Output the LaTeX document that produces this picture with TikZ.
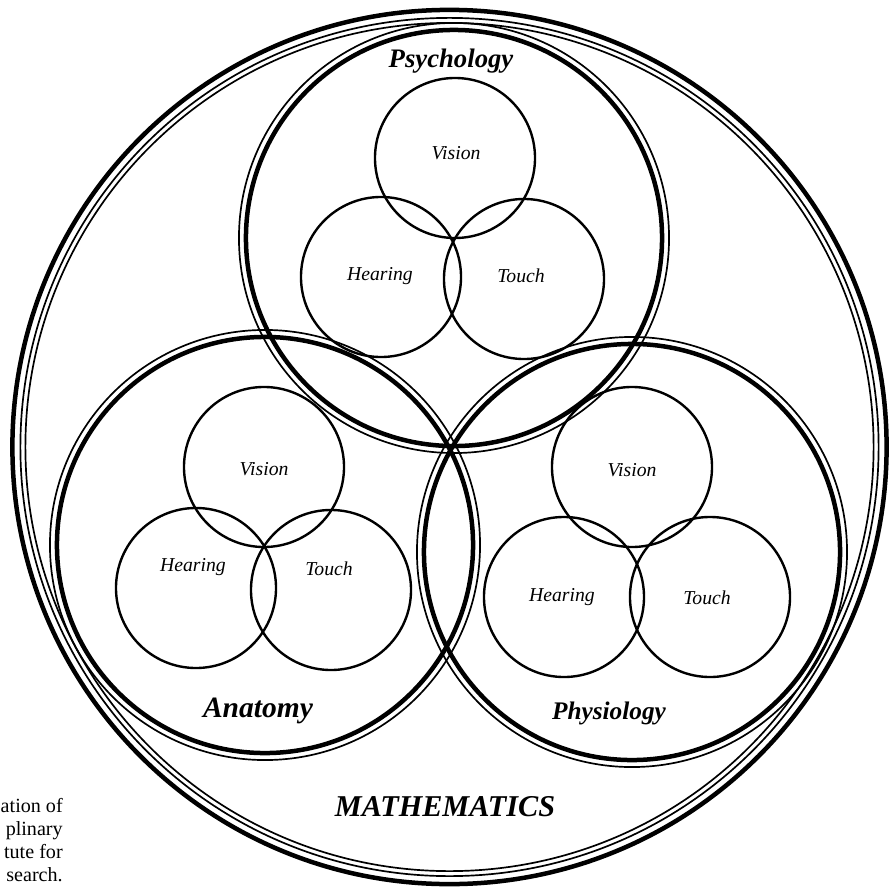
\documentclass[tikz,border=0pt]{standalone}
\usepackage{fontspec}
\setmainfont{Liberation Serif}
\tikzset{
  heavy/.style={line width=3.2pt},
  light/.style={line width=1.2pt},
  sense/.style={line width=1.7pt},
  senselabel/.style={font=\itshape\fontsize{14}{16}\selectfont, inner sep=0pt},
  fieldlabel/.style={font=\bfseries\itshape\fontsize{19}{22}\selectfont, inner sep=0pt},
}
\begin{document}
\begin{tikzpicture}[x=0.025cm, y=-0.025cm]
\useasboundingbox (0,0) rectangle (896,888);
% centres
\coordinate (math) at (449.5,447);
\coordinate (psy) at (454,238);
\coordinate (ana) at (265,545);
\coordinate (phy) at (632,552);
% outer Mathematics ring
\draw[heavy] (math) circle[radius=10.925cm];
\draw[light] (math) circle[radius=10.725cm];
\draw[light] (math) circle[radius=10.6cm];
% three disciplines
\foreach \c in {psy,ana,phy}{
  \draw[heavy] (\c) circle[radius=5.2cm];
  \draw[light] (\c) circle[radius=5.375cm];
}
% senses: psychology
\coordinate (psyV) at (455,158);
\coordinate (psyH) at (381,277);
\coordinate (psyT) at (524,279);
% senses: anatomy
\coordinate (anaV) at (264,467);
\coordinate (anaH) at (196,588);
\coordinate (anaT) at (331,590);
% senses: physiology
\coordinate (phyV) at (632,467);
\coordinate (phyH) at (564,597);
\coordinate (phyT) at (710,597);
\foreach \c in {psyV,psyH,psyT,anaV,anaH,anaT,phyV,phyH,phyT}{
  \draw[sense] (\c) circle[radius=2.0cm];
}
% labels
\node[senselabel] (lpsyV) at (456,153) {Vision};
\node[senselabel] (lpsyH) at (380,276) {Hearing};
\node[senselabel] (lpsyT) at (521,276) {Touch};
\node[senselabel] (lanaV) at (264,469) {Vision};
\node[senselabel] (lanaH) at (193,567) {Hearing};
\node[senselabel] (lanaT) at (329,569) {Touch};
\node[senselabel] (lphyV) at (632,470) {Vision};
\node[senselabel] (lphyH) at (562,597) {Hearing};
\node[senselabel] (lphyT) at (707,598) {Touch};
\node[fieldlabel] (lpsy) at (451,61) {Psychology};
\node[fieldlabel, font=\bfseries\itshape\fontsize{21}{24}\selectfont] (lana) at (258,711) {Anatomy};
\node[fieldlabel, font=\bfseries\itshape\fontsize{18}{21}\selectfont] (lphy) at (609,713) {Physiology};
\node[fieldlabel, font=\bfseries\itshape\fontsize{21.5}{24}\selectfont] (lmath) at (445,807) {MATHEMATICS};
\node[anchor=east, align=right, inner sep=0pt, font=\fontsize{14.3}{16.4}\selectfont] (caption) at (63,840) {ation of\\plinary\\tute for\\search.};
\end{tikzpicture}
\end{document}
